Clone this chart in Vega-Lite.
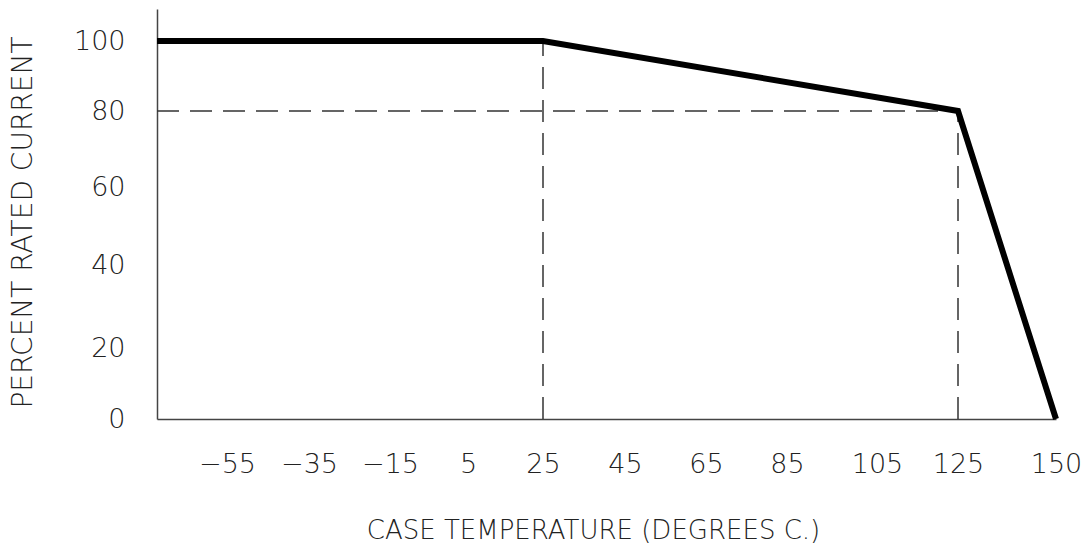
{
  "$schema": "https://vega.github.io/schema/vega-lite/v6.json",
  "width": 900,
  "height": 410,
  "autosize": {"type": "none"},
  "padding": {"left": 157, "top": 9, "right": 29, "bottom": 135},
  "background": "white",
  "config": {
    "view": {"stroke": null},
    "font": "DejaVu Sans",
    "axis": {
      "grid": false,
      "ticks": false,
      "tickSize": 0,
      "domainColor": "#444444",
      "domainWidth": 1.5,
      "labelFont": "DejaVu Sans",
      "labelFontWeight": 200,
      "labelFontSize": 27,
      "labelColor": "#222222",
      "titleFont": "DejaVu Sans",
      "titleFontWeight": 200,
      "titleFontSize": 26,
      "titleColor": "#222222"
    }
  },
  "datasets": {
    "curve": [
      {"temp": -72, "pct": 100},
      {"temp": 25, "pct": 100},
      {"temp": 125, "pct": 80},
      {"temp": 150, "pct": 0}
    ],
    "guides": [
      {"t1": -72, "p1": 80, "t2": 125, "p2": 80},
      {"t1": 25, "p1": 0, "t2": 25, "p2": 100},
      {"t1": 125, "p1": 0, "t2": 125, "p2": 80}
    ]
  },
  "layer": [
    {
      "data": {"name": "guides"},
      "mark": {"type": "rule", "strokeDash": [22, 11], "strokeWidth": 1.5, "color": "#333333"},
      "encoding": {
        "x": {"field": "t1", "type": "quantitative"},
        "y": {"field": "p1", "type": "quantitative"},
        "x2": {"field": "t2"},
        "y2": {"field": "p2"}
      }
    },
    {
      "data": {"name": "curve"},
      "mark": {"type": "line", "color": "black", "strokeWidth": 6, "strokeJoin": "miter", "strokeCap": "butt"},
      "encoding": {
        "x": {
          "field": "temp",
          "type": "quantitative",
          "scale": {
            "domain": [-72, -55, -35, -15, 5, 25, 45, 65, 85, 105, 125, 150],
            "range": [0, 70, 152, 233, 311, 386, 468, 549, 630, 720, 801, 899],
            "nice": false,
            "zero": false
          },
          "axis": {
            "values": [-55, -35, -15, 5, 25, 45, 65, 85, 105, 125, 150],
            "labelBaseline": "middle",
            "labelPadding": 45,
            "labelFlush": false,
            "labelOverlap": false,
            "title": "CASE TEMPERATURE (DEGREES C.)",
            "titleBaseline": "middle",
            "titleFontSize": 26,
            "titleX": 436,
            "titleY": 111
          }
        },
        "y": {
          "field": "pct",
          "type": "quantitative",
          "scale": {
            "domain": [0, 20, 40, 60, 80, 100, 109],
            "range": [410, 339, 256, 178, 102, 32, 0],
            "nice": false,
            "zero": false
          },
          "axis": {
            "values": [0, 20, 40, 60, 80, 100],
            "labelAlign": "right",
            "labelBaseline": "middle",
            "labelPadding": 32,
            "labelFlush": false,
            "labelOverlap": false,
            "title": "PERCENT RATED CURRENT",
            "titleAngle": -90,
            "titleBaseline": "middle",
            "titleAlign": "center",
            "titleFontSize": 28,
            "titleX": -134,
            "titleY": 213
          }
        }
      }
    }
  ]
}
